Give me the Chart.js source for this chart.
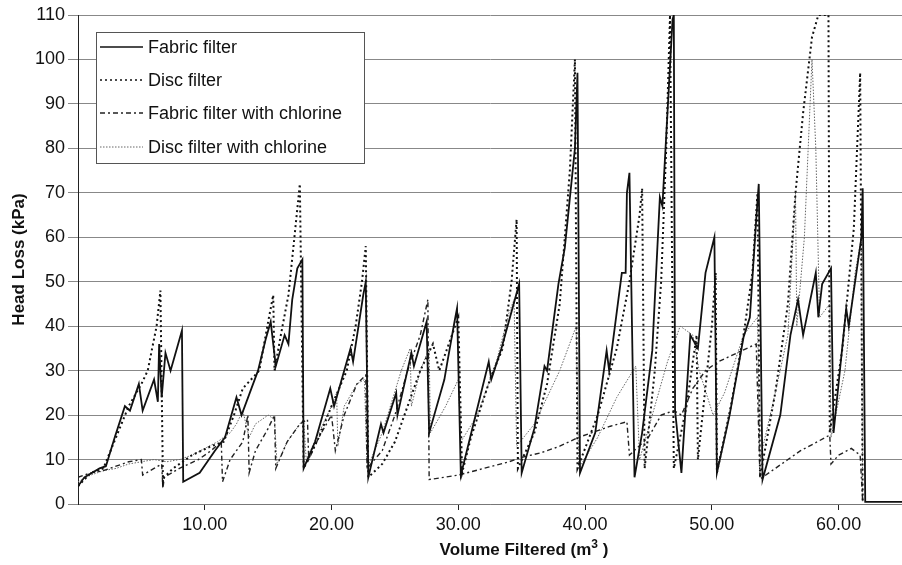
<!DOCTYPE html>
<html>
<head>
<meta charset="utf-8">
<script src="https://cdn.jsdelivr.net/npm/chart.js@4"></script>
<style>
  body { margin: 0; background: #fff; }
  #wrap { position: relative; width: 902px; height: 565px; }
  #xtitle {
    position: absolute; left: 0; width: 1048px; top: 537px; text-align: center;
    font: bold 17px "Liberation Sans", Arial, sans-serif; color: #111;
  }
  #xtitle sup { font-size: 12px; }
</style>
</head>
<body>
<div id="wrap">
  <canvas id="myChart" width="902" height="565"></canvas>
  <div id="xtitle">Volume Filtered (m<sup>3</sup> )</div>
</div>
<script>
// valores (volumen m3 / pérdida de carga kPa)
const fabricX = [0, 0.5, 1.7, 2.2, 2.9, 3.7, 4.1, 4.8, 5.1, 6.0, 6.3, 6.4, 6.6, 6.9, 7.3, 7.9, 8.2, 8.3, 9.6, 10.8, 11.6, 12.1, 12.5, 12.9, 14.2, 14.8, 15.2, 15.6, 16.3, 16.6, 16.9, 17.3, 17.7, 17.8, 18.7, 19.5, 19.9, 20.2, 21.5, 21.7, 22.5, 22.7, 22.9, 23.9, 24.1, 25.1, 25.2, 26.3, 26.5, 27.5, 27.7, 28.9, 29.2, 29.7, 29.9, 30.2, 32.4, 32.6, 33.4, 34.8, 35.0, 36.0, 36.8, 37.0, 37.9, 38.4, 39.2, 39.4, 39.6, 40.8, 41.7, 41.9, 42.9, 43.2, 43.3, 43.5, 43.9, 44.5, 45.3, 45.9, 46.1, 46.9, 47.0, 47.1, 47.6, 48.3, 48.9, 49.5, 50.2, 50.4, 51.4, 52.5, 53.0, 53.5, 53.7, 54.0, 55.4, 56.2, 56.8, 57.2, 58.2, 58.4, 58.7, 59.4, 59.6, 60.6, 60.8, 61.8, 61.9, 62.1, 65];
const fabricY = [4, 6, 8, 8.5, 15, 22, 21, 27, 21, 28, 23, 36, 24, 34, 30, 36, 39, 5, 7, 12, 15, 20, 24, 20, 30, 37, 41, 31, 38, 36, 46, 53, 55, 8, 14, 22, 26, 22, 35, 32, 47, 50, 6, 18, 16, 25, 20, 34, 31, 41, 16, 28, 33, 41, 44, 6.5, 32, 28, 35, 49.5, 7, 17, 31, 30, 49.5, 57.6, 80, 97, 7, 16, 34.5, 30, 52, 52, 70, 74.5, 6, 16, 34.5, 69, 67, 109, 110, 21, 7, 38, 35, 52, 60, 7, 20, 37.5, 42, 64, 72, 5.5, 20, 38, 46, 38, 52, 42, 49.5, 53, 16, 44, 40, 60, 71, 0.5, 0.5];

const discX = [0, 1, 2, 3, 4, 5, 5.5, 6.2, 6.5, 6.7, 6.8, 7.5, 9, 10.5, 11.5, 12.3, 13.0, 14.3, 15.0, 15.4, 15.5, 16.0, 16.6, 17.0, 17.5, 17.8, 19, 20, 21.2, 21.9, 22.4, 22.7, 22.9, 24, 25, 26, 27, 28, 28.5, 29.5, 30.0, 30.3, 31, 32.5, 33.5, 34.2, 34.6, 34.7, 36, 37, 38, 38.8, 39.2, 39.4, 41, 42.5, 43.5, 44.3, 44.5, 44.7, 45.5, 46, 46.4, 46.7, 47.0, 48.0, 48.8, 48.9, 50.0, 50.3, 50.4, 51.5, 52.5, 53.2, 53.6, 53.8, 55, 56, 56.6, 57.2, 57.9, 58.4, 59.2, 59.3, 60.3, 61.2, 61.7, 61.9];
const discY = [4, 7, 8, 15, 22, 27, 30, 40, 48, 5, 6, 8, 11, 13, 14, 20, 26, 30, 41, 47, 30, 38, 47, 58, 72, 8, 15, 22, 30, 40, 50, 58, 6, 9, 14, 22, 30, 36, 30, 38, 42, 7, 15, 28, 35, 50, 64, 8, 16, 27, 45, 75, 100, 8, 20, 35, 50, 65, 71, 8, 30, 50, 80, 110, 8, 22, 38, 10, 40, 52, 7, 22, 38, 52, 70, 6, 25, 45, 70, 88, 105, 110, 110, 16, 35, 62, 97, 0.5];

const fabricClX = [0, 1, 2, 3, 4, 5, 5.1, 6, 6.6, 6.7, 6.8, 8, 9.5, 10.5, 11.3, 11.4, 12, 13, 13.4, 13.5, 14, 15, 15.5, 15.6, 16.5, 17.5, 18.1, 18.2, 19, 20, 20.3, 21, 22, 22.7, 22.8, 24, 25, 26, 27, 27.6, 27.7, 30, 32, 34, 35, 36.5, 38, 39.5, 40.5, 42, 43.3, 43.5, 45, 46, 47, 47.6, 48.5, 49.5, 50.5, 52, 53.5, 53.8, 55, 56, 57, 58, 59.3, 59.4, 60, 61, 61.7, 61.9];
const fabricClY = [6, 7, 7.5, 8.5, 9.5, 10, 6.5, 8, 9, 3.5, 6, 8, 10, 12, 14, 5, 10, 14, 20, 7, 12, 17, 20, 8, 14, 18, 19, 10, 15, 20, 12, 20, 27, 29, 8, 12, 20, 30, 38, 46, 5.5, 6.5, 8, 9.5, 10.5, 11.5, 13, 15, 16, 17.5, 18.5, 11, 15, 20, 21, 20, 26, 30, 32, 34, 36, 5.6, 8, 10, 12, 13.5, 15.5, 9, 11, 12.5, 11, 0.5];

const discClX = [0, 1, 2, 3, 4, 5, 6, 7, 8, 9, 10, 11, 12, 12.5, 13, 13.5, 14, 15, 15.5, 15.7, 16.5, 17.5, 17.8, 18.0, 19, 20, 20.4, 20.5, 21, 22, 22.6, 22.8, 24, 25.5, 26.2, 26.3, 27, 27.7, 27.8, 29, 30, 30.2, 31.5, 33, 34.0, 34.4, 34.6, 36, 38, 39.3, 39.5, 41, 42.5, 44, 44.3, 45.5, 46.5, 47.5, 48.5, 49, 50.1, 51, 52.5, 53.6, 53.8, 55, 56, 56.6, 56.7, 57.3, 57.9, 58.2, 58.5, 59.3, 59.4, 60.5, 61.3, 61.8, 61.9];
const discClY = [5, 6.5, 7.5, 8, 9, 9.5, 10, 9.5, 10, 11, 12.5, 14, 16, 18, 21, 15, 18, 20, 19, 9, 14, 18, 19, 10, 16, 22, 25, 13, 22, 27, 28, 8, 16, 30, 35, 22, 30, 35, 16, 22, 28, 14, 20, 32, 43, 46, 13, 18, 30, 40, 8, 15, 24, 31, 10, 22, 32, 40, 38, 30, 20, 25, 38, 42, 10, 25, 38, 70, 40, 60, 100, 80, 42, 45, 15, 30, 52, 60, 0.5];

const seriesNames = ['Fabric filter', 'Disc filter', 'Fabric filter with chlorine', 'Disc filter with chlorine'];
const yTicks = [0, 10, 20, 30, 40, 50, 60, 70, 80, 90, 100, 110];
const xTickLabels = ['10.00', '20.00', '30.00', '40.00', '50.00', '60.00'];

const FONT = '"Liberation Sans", Arial, sans-serif';

function puntos(xs, ys) {
  return xs.map((x, i) => ({ x: x, y: ys[i] }));
}

// leyenda dibujada dentro del área del gráfico
const leyendaCaja = {
  id: 'leyendaCaja',
  afterDatasetsDraw(chart) {
    const ctx = chart.ctx;
    ctx.save();
    ctx.fillStyle = '#fff';
    ctx.fillRect(96, 32, 268, 131);
    ctx.strokeStyle = '#555';
    ctx.lineWidth = 1;
    ctx.setLineDash([]);
    ctx.strokeRect(96.5, 32.5, 268, 131);
    const filas = [47, 80, 113, 147];
    chart.data.datasets.forEach((ds, i) => {
      ctx.strokeStyle = ds.borderColor;
      ctx.lineWidth = Math.min(ds.borderWidth, 1.4);
      ctx.setLineDash(ds.borderDash || []);
      ctx.beginPath();
      ctx.moveTo(100, filas[i]);
      ctx.lineTo(143, filas[i]);
      ctx.stroke();
      ctx.setLineDash([]);
      ctx.fillStyle = '#111';
      ctx.font = '18px ' + FONT;
      ctx.textBaseline = 'middle';
      ctx.fillText(ds.label, 148, filas[i] + 1);
    });
    ctx.restore();
  }
};

const ctx = document.getElementById('myChart').getContext('2d');
const myChart = new Chart(ctx, {
  type: 'line',
  data: {
    datasets: [
      {
        label: seriesNames[0],
        data: puntos(fabricX, fabricY),
        borderColor: '#111',
        borderWidth: 1.8,
        borderDash: []
      },
      {
        label: seriesNames[1],
        data: puntos(discX, discY),
        borderColor: '#111',
        borderWidth: 2,
        borderDash: [2, 3]
      },
      {
        label: seriesNames[2],
        data: puntos(fabricClX, fabricClY),
        borderColor: '#222',
        borderWidth: 1.4,
        borderDash: [5, 3, 2, 3]
      },
      {
        label: seriesNames[3],
        data: puntos(discClX, discClY),
        borderColor: '#666',
        borderWidth: 1,
        borderDash: [1.5, 1.5]
      }
    ]
  },
  options: {
    responsive: false,
    animation: false,
    devicePixelRatio: 1,
    layout: { padding: { top: 15, right: 0, left: 0, bottom: 0 } },
    elements: { point: { radius: 0 }, line: { tension: 0 } },
    plugins: { legend: { display: false }, tooltip: { enabled: false } },
    scales: {
      x: {
        type: 'linear',
        min: 0,
        max: 65,
        afterFit: s => { s.height = 61; },
        border: { color: '#777', width: 1 },
        grid: { drawOnChartArea: false, tickLength: 6, color: '#222' },
        ticks: {
          stepSize: 10,
          padding: 4,
          color: '#111',
          font: { family: FONT, size: 18 },
          maxRotation: 0,
          callback: v => {
            const idx = v / 10 - 1;
            return (v > 0 && v % 10 === 0) ? xTickLabels[idx] : null;
          }
        }
      },
      y: {
        min: 0,
        max: 110,
        afterFit: s => { s.width = 78; },
        afterBuildTicks: s => { s.ticks = yTicks.map(v => ({ value: v })); },
        border: { color: '#222', width: 1 },
        grid: { color: '#888', lineWidth: 1, tickLength: 10 },
        ticks: {
          padding: 3,
          color: '#111',
          font: { family: FONT, size: 18 }
        },
        title: {
          display: true,
          text: 'Head Loss (kPa)',
          color: '#111',
          font: { family: FONT, size: 17, weight: 'bold' },
          padding: { top: 9, bottom: 0 }
        }
      }
    }
  },
  plugins: [leyendaCaja]
});
</script>
</body>
</html>
